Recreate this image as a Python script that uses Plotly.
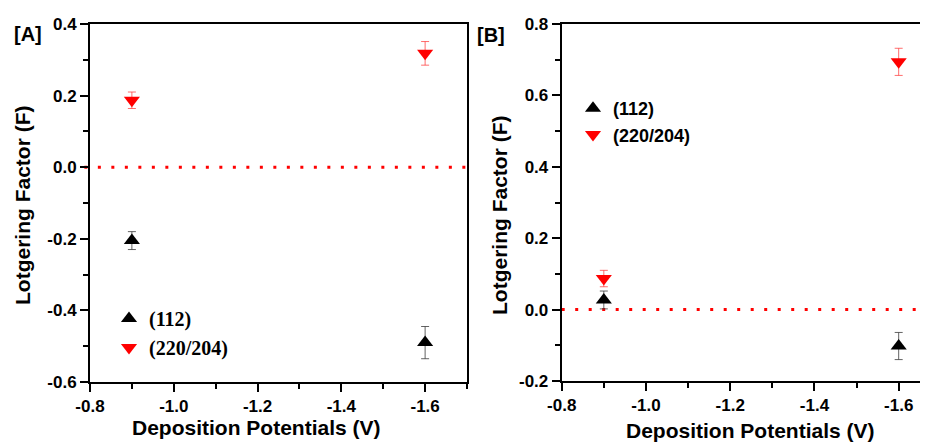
import plotly.graph_objects as go

# The page body has an 8px margin, so the figure is drawn 8px in from the window edge.
OFF = 8
W, H = 928 - OFF, 442 - OFF

potentials = [-0.9, -1.6]

# Panel A
a_112 = [-0.205, -0.490]
a_112_err = [0.025, 0.045]
a_220 = [0.187, 0.318]
a_220_err = [0.023, 0.033]

# Panel B
b_112 = [0.027, -0.102]
b_112_err = [0.025, 0.038]
b_220 = [0.087, 0.694]
b_220_err = [0.023, 0.038]

series_names = ["(112)", "(220/204)"]
x_title = "Deposition Potentials (V)"
y_title = "Lotgering Factor (F)"

x_ticks = [-0.8, -1.0, -1.2, -1.4, -1.6]
x_ticktext = ["-0.8", "-1.0", "-1.2", "-1.4", "-1.6"]
x_minor = [-0.9, -1.1, -1.3, -1.5, -1.7]
yA_ticks = [-0.6, -0.4, -0.2, 0.0, 0.2, 0.4]
yA_ticktext = ["-0.6", "-0.4", "-0.2", "0.0", "0.2", "0.4"]
yA_minor = [-0.5, -0.3, -0.1, 0.1, 0.3]
yB_ticks = [-0.2, 0.0, 0.2, 0.4, 0.6, 0.8]
yB_ticktext = ["-0.2", "0.0", "0.2", "0.4", "0.6", "0.8"]
yB_minor = [-0.1, 0.1, 0.3, 0.5, 0.7]

BLACK = "#000000"
RED = "#ff0000"
tick_font = dict(family="Liberation Sans", size=17, color="black", weight="bold")

fig = go.Figure()

def add_series(xa, ya, y, err, name, color, symbol, err_color, legend):
    fig.add_trace(go.Scatter(
        x=potentials, y=y, mode="markers", name=name,
        xaxis=xa, yaxis=ya, legend=legend,
        marker=dict(symbol=symbol, size=14, color=color),
        error_y=dict(type="data", array=err, visible=True,
                     color=err_color, thickness=1, width=4),
    ))

add_series("x", "y", a_112, a_112_err, series_names[0], BLACK, "triangle-up", "rgba(60,60,60,0.8)", "legend")
add_series("x", "y", a_220, a_220_err, series_names[1], RED, "triangle-down", "rgba(255,60,60,0.75)", "legend")
add_series("x2", "y2", b_112, b_112_err, series_names[0], BLACK, "triangle-up", "rgba(60,60,60,0.8)", "legend2")
add_series("x2", "y2", b_220, b_220_err, series_names[1], RED, "triangle-down", "rgba(255,60,60,0.75)", "legend2")

def px_x(p):
    return (p - OFF) / W

def px_y(p):
    return 1 - (p - OFF) / H

axis_common = dict(
    showline=True, linecolor="black", linewidth=2,
    ticks="outside", ticklen=8, tickwidth=2, tickcolor="black",
    showgrid=False, zeroline=False, tickfont=tick_font,
    tickmode="array",
)

def minor(vals):
    return dict(ticks="outside", ticklen=5, tickwidth=2, tickcolor="black",
                tickmode="array", tickvals=vals, showgrid=False)

yA_dom = [px_y(382), px_y(24)]
yB_dom = [px_y(381), px_y(24)]

fig.update_layout(
    width=W, height=H,
    margin=dict(l=0, r=0, t=0, b=0, autoexpand=False),
    paper_bgcolor="white", plot_bgcolor="white",
    xaxis=dict(**axis_common, domain=[px_x(90), px_x(467)], range=[-0.8, -1.7],
               tickvals=x_ticks, ticktext=x_ticktext, minor=minor(x_minor),
               mirror=True, anchor="y"),
    yaxis=dict(**axis_common, domain=yA_dom, range=[-0.6, 0.4],
               tickvals=yA_ticks, ticktext=yA_ticktext, minor=minor(yA_minor),
               mirror=True, anchor="x"),
    xaxis2=dict(**axis_common, domain=[px_x(561.7), 1.0], range=[-0.8, -1.6696],
                tickvals=x_ticks, ticktext=x_ticktext, minor=minor(x_minor),
                mirror=True, anchor="y2"),
    yaxis2=dict(**axis_common, domain=yB_dom, range=[-0.2, 0.8],
                tickvals=yB_ticks, ticktext=yB_ticktext, minor=minor(yB_minor),
                mirror=False, anchor="x2"),
    legend=dict(x=px_x(109), y=px_y(299), xanchor="left", yanchor="top",
                bgcolor="rgba(0,0,0,0)", tracegroupgap=0,
                font=dict(family="Liberation Serif", size=20, color="black", weight="bold")),
    legend2=dict(x=px_x(573), y=px_y(90), xanchor="left", yanchor="top",
                 bgcolor="rgba(0,0,0,0)", tracegroupgap=0,
                 font=dict(family="Liberation Sans", size=18, color="black", weight="bold")),
)

# zero reference lines
fig.add_shape(type="line", xref="x domain", yref="y", x0=-0.015, x1=1, y0=0, y1=0,
              line=dict(color=RED, width=3, dash="3px,10.5px"), layer="below")
fig.add_shape(type="line", xref="x2 domain", yref="y2", x0=0, x1=1, y0=0, y1=0,
              line=dict(color=RED, width=3, dash="3px,10.5px"), layer="below")

title_font = dict(family="Liberation Sans", size=21, color="black", weight="bold")
label_font = dict(family="Liberation Sans", size=20, color="black", weight="bold")
ann = [
    dict(text="[A]", x=px_x(28), y=px_y(34), font=label_font),
    dict(text="[B]", x=px_x(491), y=px_y(35), font=label_font),
    dict(text=x_title, x=px_x(256), y=px_y(427), font=title_font),
    dict(text=x_title, x=px_x(750), y=px_y(430), font=title_font),
    dict(text=y_title, x=px_x(22), y=px_y(206), textangle=-90, font=title_font),
    dict(text=y_title, x=px_x(500), y=px_y(216), textangle=-90, font=title_font),
]
for a in ann:
    fig.add_annotation(xref="paper", yref="paper", showarrow=False,
                       xanchor="center", yanchor="middle", **a)

fig.write_html("out.html")
